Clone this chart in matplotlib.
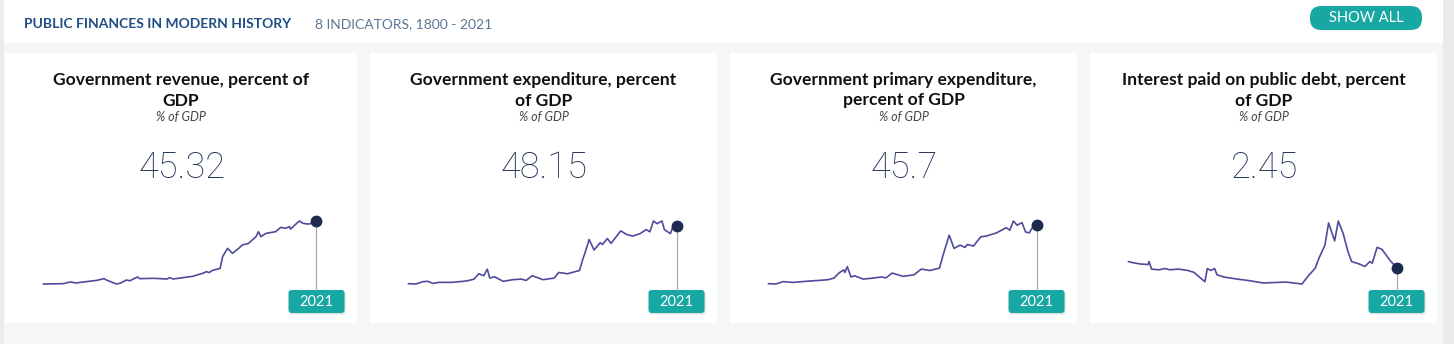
import matplotlib
matplotlib.use('Agg')
import matplotlib.pyplot as plt
from matplotlib.patches import Rectangle, FancyBboxPatch

W, H = 1454, 344
plt.rcParams['font.family'] = ['Lato', 'DejaVu Sans']

header_title = 'PUBLIC FINANCES IN MODERN HISTORY'
header_sub = '8 INDICATORS, 1800 - 2021'
button_label = 'SHOW ALL'
unit_label = '% of GDP'
latest_year = '2021'

card_titles = [
    ['Government revenue, percent of', 'GDP'],
    ['Government expenditure, percent', 'of GDP'],
    ['Government primary expenditure,', 'percent of GDP'],
    ['Interest paid on public debt, percent', 'of GDP'],
]
latest_values = [45.32, 48.15, 45.7, 2.45]

revenue_years = [1800, 1816, 1822, 1826, 1843, 1849, 1851, 1859, 1862, 1867, 1870, 1876, 1878, 1889,
                 1900, 1902, 1905, 1921, 1927, 1929, 1932, 1934, 1937, 1940, 1943, 1945, 1949, 1953,
                 1958, 1961, 1966, 1969, 1972, 1974, 1976, 1980, 1988, 1992, 1996, 1999, 2000, 2007,
                 2010, 2014, 2018, 2021]
revenue_values = [9.0, 9.2, 10.2, 9.6, 11.1, 12.1, 11.3, 9.0, 9.4, 11.3, 10.9, 13.1, 12.1, 12.3,
                  11.9, 12.7, 11.9, 13.5, 14.8, 15.2, 16.2, 15.6, 17.0, 17.5, 18.1, 24.9, 29.7, 26.8,
                  29.7, 31.7, 32.6, 34.6, 36.5, 39.4, 36.5, 38.4, 39.4, 41.9, 41.4, 42.3, 40.9, 45.6,
                  44.3, 43.8, 44.3, 45.32]

expenditure_years = [1800, 1806, 1812, 1816, 1820, 1825, 1836, 1845, 1850, 1854, 1858, 1862, 1865,
                     1867, 1871, 1878, 1886, 1893, 1897, 1902, 1911, 1920, 1924, 1931, 1941, 1944,
                     1945, 1949, 1953, 1958, 1960, 1964, 1967, 1975, 1980, 1985, 1991, 1996, 1999,
                     2002, 2005, 2009, 2011, 2016, 2018, 2021]
expenditure_values = [9.2, 9.0, 10.6, 10.8, 9.4, 10.1, 10.1, 10.8, 11.4, 12.3, 15.9, 14.6, 19.0,
                      13.0, 13.9, 10.8, 11.9, 12.3, 11.4, 14.6, 11.9, 13.0, 16.8, 15.9, 18.1, 26.4,
                      28.6, 39.0, 31.9, 36.8, 35.7, 39.7, 36.4, 44.8, 42.4, 41.3, 43.0, 45.7, 44.2,
                      51.5, 49.7, 51.5, 45.7, 43.0, 47.5, 48.15]

primary_years = [1800, 1806, 1812, 1820, 1831, 1842, 1849, 1854, 1858, 1862, 1863, 1865, 1868, 1871,
                 1878, 1886, 1893, 1897, 1902, 1911, 1920, 1926, 1933, 1941, 1944, 1949, 1953, 1958,
                 1962, 1964, 1969, 1975, 1980, 1988, 1996, 1999, 2002, 2005, 2009, 2012, 2015, 2018,
                 2021]
primary_values = [8.7, 8.5, 10.0, 9.5, 10.2, 10.8, 11.2, 12.2, 15.4, 17.4, 15.8, 19.5, 12.9, 13.7,
                  11.6, 12.2, 12.9, 12.4, 15.4, 13.3, 14.3, 17.9, 17.0, 18.5, 26.8, 39.3, 30.9, 33.0,
                  31.6, 33.4, 32.4, 38.2, 38.8, 40.7, 44.0, 42.4, 48.2, 45.5, 47.2, 41.3, 40.7, 44.5,
                  45.7]

interest_years = [1800, 1803, 1809, 1816, 1817, 1819, 1825, 1830, 1834, 1841, 1849, 1854, 1863, 1865,
                  1868, 1871, 1873, 1879, 1889, 1898, 1911, 1930, 1943, 1949, 1954, 1957, 1962, 1965,
                  1970, 1973, 1977, 1981, 1984, 1990, 1995, 1999, 2001, 2005, 2009, 2016, 2021]
interest_values = [2.97, 2.89, 2.77, 2.71, 2.97, 2.31, 2.25, 2.36, 2.25, 2.31, 2.19, 2.02, 1.20, 2.36,
                   2.19, 2.36, 1.81, 1.61, 1.44, 1.32, 1.09, 1.17, 1.00, 1.81, 2.39, 3.26, 4.42, 6.37,
                   4.80, 6.54, 5.44, 3.84, 2.97, 2.77, 2.54, 2.97, 2.83, 4.22, 4.05, 3.03, 2.45]

series = [(revenue_years, revenue_values), (expenditure_years, expenditure_values),
          (primary_years, primary_values), (interest_years, interest_values)]

# card boxes in pixels (left, right), all share the same top/bottom
cards = [(5, 357), (370, 717), (730, 1077), (1090, 1437)]
card_top, card_bottom = 53, 323
spark_top, spark_bottom = 221, 284

teal = '#17a8a4'
line_col = '#4f4b9c'
dot_col = '#1c2b4f'
num_col = '#26365a'

fig = plt.figure(figsize=(W / 100, H / 100), dpi=100)
fig.patch.set_facecolor('#f5f6f8')
bg = fig.add_axes([0, 0, 1, 1])
bg.set_xlim(0, W)
bg.set_ylim(H, 0)
bg.axis('off')

# page frame and header band
bg.add_patch(Rectangle((0, 0), 4, H, color='#ececec', lw=0))
bg.add_patch(Rectangle((1443, 0), W - 1443, H, color='#ebebeb', lw=0))
bg.add_patch(Rectangle((4, 0), 1439, 43, color='white', lw=0))
bg.text(24, 28, header_title, fontsize=10, fontweight='bold', color='#1f4e87', va='baseline')
bg.text(315, 28, header_sub, fontsize=10, color='#5a7795', va='baseline')
bg.add_patch(FancyBboxPatch((1310, 6), 112, 24, boxstyle='round,pad=0,rounding_size=11',
                            fc=teal, ec='none'))
bg.text(1366, 22.5, button_label, fontsize=10.5, color='white', ha='center', va='baseline')

for (left, right), title, value, (years, values) in zip(cards, card_titles, latest_values, series):
    cx = (left + right) / 2
    bg.add_patch(Rectangle((left, card_top), right - left, card_bottom - card_top,
                           color='white', lw=0))
    bg.text(cx, 85, title[0], fontsize=12.6, fontweight='bold', color='#111111',
            ha='center', va='baseline')
    bg.text(cx, 105.5, title[1], fontsize=12.6, fontweight='bold', color='#111111',
            ha='center', va='baseline')
    bg.text(cx, 121, unit_label, fontsize=9, style='italic', color='#444444',
            ha='center', va='baseline')
    bg.text(cx + 1, 178, f'{value:g}', fontsize=26, family='Roboto', fontweight='light',
            color=num_col, ha='center', va='baseline')

    x0, x1 = left + 38.5, right - 40.5
    ax = fig.add_axes([x0 / W, (H - spark_bottom) / H, (x1 - x0) / W,
                       (spark_bottom - spark_top) / H])
    ax.plot(years, values, color=line_col, lw=1.2, clip_on=False)
    ax.plot(years[-1], values[-1], 'o', ms=7.5, color=dot_col, clip_on=False, zorder=5)
    ax.set_xlim(years[0], years[-1])
    ax.set_ylim(min(values), max(values))
    ax.axis('off')

    # stem + year badge under the last point
    px, py = ax.transData.transform((years[-1], values[-1]))
    py = H - py
    bg.plot([px, px], [py, 290], color='#a8a8a8', lw=0.9)
    bg.add_patch(FancyBboxPatch((px - 27, 291.5), 56, 23, boxstyle='round,pad=0,rounding_size=3',
                                fc='#000000', ec='none', alpha=0.12))
    bg.add_patch(FancyBboxPatch((px - 28, 290), 56, 23, boxstyle='round,pad=0,rounding_size=3',
                                fc=teal, ec='none'))
    bg.text(px, 306.5, latest_year, fontsize=10.5, color='white', ha='center', va='baseline')

fig.savefig('out.png', dpi=100, facecolor=fig.get_facecolor())
